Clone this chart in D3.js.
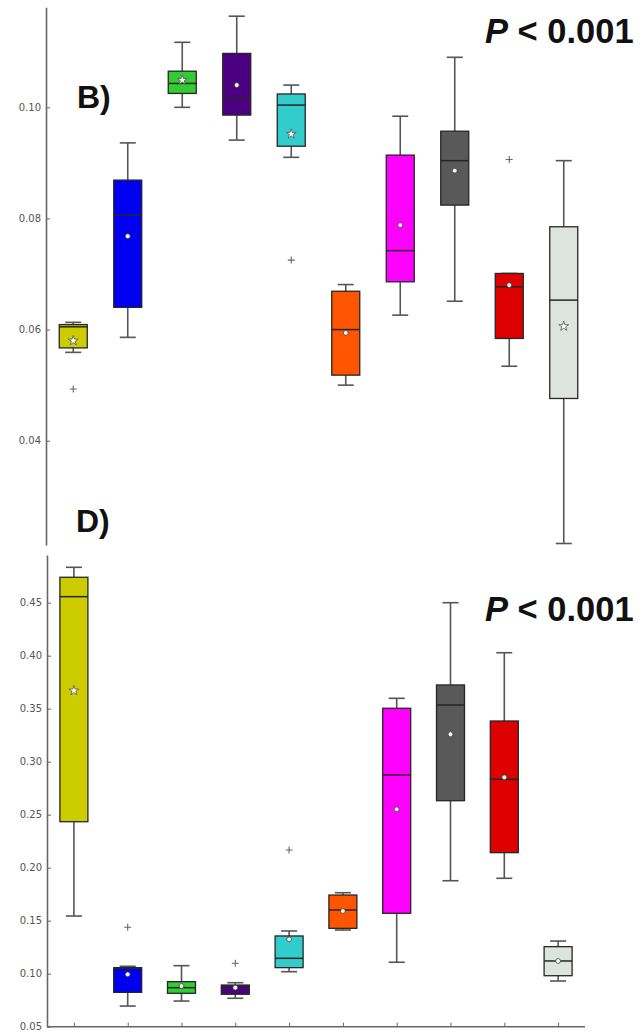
<!DOCTYPE html>
<html>
<head>
<meta charset="utf-8">
<script src="https://cdn.jsdelivr.net/npm/d3@7"></script>
<style>
  html, body { margin: 0; padding: 0; background: #fff; }
  svg { display: block; }
</style>
</head>
<body>
<svg id="chart" width="641" height="1034"></svg>
<script>
// Ten groups, one colour each
const groups = ["1", "2", "3", "4", "5", "6", "7", "8", "9", "10"];
const colors = ["#cccc00", "#0000f0", "#33cc33", "#4b0082", "#33cccc",
                "#ff5500", "#ff00ff", "#595959", "#dd0000", "#dde4e0"];

// Panel B statistics
const bLow  = [0.0559, 0.0586, 0.1000, 0.0941, 0.0910, 0.0500, 0.0626, 0.0651, 0.0534, 0.0215];
const bQ1   = [0.0567, 0.0640, 0.1025, 0.0986, 0.0930, 0.0518, 0.0686, 0.0824, 0.0584, 0.0476];
const bMed  = [0.0605, 0.0806, 0.1043, 0.1016, 0.1004, 0.0600, 0.0742, 0.0904, 0.0677, 0.0653];
const bQ3   = [0.0609, 0.0869, 0.1065, 0.1097, 0.1024, 0.0669, 0.0914, 0.0957, 0.0701, 0.0785];
const bHigh = [0.0613, 0.0936, 0.1117, 0.1164, 0.1040, 0.0681, 0.0984, 0.1090, 0.0701, 0.0904];
const bMean = [0.0580, 0.0768, 0.1049, 0.1040, 0.0952, 0.0594, 0.0788, 0.0886, 0.0680, 0.0606];
const bStar = [true, false, true, false, true, false, false, false, false, true];
const bOut  = [[0.0493], [], [], [], [0.0725], [], [], [], [0.0906], []];
const bTicks = [0.04, 0.06, 0.08, 0.10];

// Panel D statistics
const dLow  = [0.1544, 0.0695, 0.0742, 0.0768, 0.1019, 0.1412, 0.1108, 0.1877, 0.1900, 0.0931];
const dQ1   = [0.2434, 0.0824, 0.0815, 0.0806, 0.1057, 0.1428, 0.1570, 0.2632, 0.2142, 0.0981];
const dMed  = [0.4557, 0.1050, 0.0868, 0.0865, 0.1145, 0.1601, 0.2875, 0.3535, 0.2834, 0.1120];
const dQ3   = [0.4740, 0.1057, 0.0925, 0.0893, 0.1356, 0.1742, 0.3504, 0.3724, 0.3384, 0.1255];
const dHigh = [0.4834, 0.1070, 0.1076, 0.0915, 0.1403, 0.1764, 0.3598, 0.4500, 0.4028, 0.1308];
const dMean = [0.3670, 0.0994, 0.0884, 0.0868, 0.1324, 0.1591, 0.2551, 0.3259, 0.2853, 0.1120];
const dStar = [true, false, false, false, false, false, false, false, false, false];
const dOut  = [[], [0.1438], [], [0.1098], [0.2167], [], [], [], [], []];
const dTicks = [0.05, 0.10, 0.15, 0.20, 0.25, 0.30, 0.35, 0.40, 0.45];

const svg = d3.select("#chart");

function panel(cfg) {
  const g = svg.append("g");
  const x = d3.scalePoint().domain(groups).range(cfg.xRange).padding(0.5);
  const y = d3.scaleLinear().domain(cfg.yDomain).range(cfg.yRange);
  const boxW = 28, capW = 16;

  const rows = groups.map((k, i) => ({
    k, i, color: colors[i],
    low: cfg.low[i], q1: cfg.q1[i], med: cfg.med[i], q3: cfg.q3[i], high: cfg.high[i],
    mean: cfg.mean[i], star: cfg.star[i], out: cfg.out[i]
  }));

  // y axis with inward ticks
  const ay = g.append("g")
    .attr("transform", `translate(${cfg.xRange[0]},0)`)
    .call(d3.axisLeft(y).tickValues(cfg.ticks).tickFormat(d3.format(".2f"))
      .tickSize(-4).tickSizeOuter(0).tickPadding(5));
  ay.select(".domain").attr("stroke", "#666").attr("stroke-width", 1.6);
  ay.selectAll(".tick line").attr("stroke", "#666").attr("stroke-width", 1);
  ay.selectAll(".tick text").attr("fill", "#555")
    .style("font-family", "DejaVu Sans, sans-serif").style("font-size", "10px");

  if (cfg.xAxis) {
    const ax = g.append("g")
      .attr("transform", `translate(0,${cfg.yRange[0]})`)
      .call(d3.axisBottom(x).tickFormat("").tickSize(-4).tickSizeOuter(0));
    ax.select(".domain").attr("stroke", "#666").attr("stroke-width", 1.6)
      .attr("d", `M${cfg.xRange[0]},0H${cfg.xRange[1]}`);
    ax.selectAll(".tick line").attr("stroke", "#666").attr("stroke-width", 1);
  }

  const box = g.selectAll(".box").data(rows).join("g").attr("class", "box")
    .attr("transform", d => `translate(${x(d.k)},0)`);

  // whiskers
  box.append("line").attr("x1", 0).attr("x2", 0)
    .attr("y1", d => y(d.high)).attr("y2", d => y(d.q3))
    .attr("stroke", "#555").attr("stroke-width", 1.6);
  box.append("line").attr("x1", 0).attr("x2", 0)
    .attr("y1", d => y(d.q1)).attr("y2", d => y(d.low))
    .attr("stroke", "#555").attr("stroke-width", 1.6);
  box.append("line").attr("x1", -capW / 2).attr("x2", capW / 2)
    .attr("y1", d => y(d.high)).attr("y2", d => y(d.high))
    .attr("stroke", "#555").attr("stroke-width", 1.6);
  box.append("line").attr("x1", -capW / 2).attr("x2", capW / 2)
    .attr("y1", d => y(d.low)).attr("y2", d => y(d.low))
    .attr("stroke", "#555").attr("stroke-width", 1.6);

  // interquartile box
  box.append("rect").attr("x", -boxW / 2).attr("width", boxW)
    .attr("y", d => y(d.q3)).attr("height", d => y(d.q1) - y(d.q3))
    .attr("fill", d => d.color).attr("stroke", "#262626").attr("stroke-width", 1.3);

  // median
  box.append("line").attr("x1", -boxW / 2).attr("x2", boxW / 2)
    .attr("y1", d => y(d.med)).attr("y2", d => y(d.med))
    .attr("stroke", "#262626").attr("stroke-width", 1.5);

  // mean marker
  box.filter(d => d.star).append("path")
    .attr("d", d3.symbol().type(d3.symbolStar).size(30))
    .attr("transform", d => `translate(0,${y(d.mean)})`)
    .attr("fill", "#fff").attr("stroke", "#555").attr("stroke-width", 0.8);
  box.filter(d => !d.star).append("circle")
    .attr("cy", d => y(d.mean)).attr("r", 2.4)
    .attr("fill", "#fff").attr("stroke", "#444").attr("stroke-width", 0.8);

  // outliers
  box.selectAll(".flier").data(d => d.out).join("path").attr("class", "flier")
    .attr("d", "M-3.5,0H3.5M0,-3.5V3.5")
    .attr("transform", v => `translate(0,${y(v)})`)
    .attr("stroke", "#666").attr("stroke-width", 1.1);

  // panel letter and significance
  g.append("text").attr("x", cfg.letterPos[0]).attr("y", cfg.letterPos[1])
    .text(cfg.letter)
    .style("font-family", "Liberation Sans, Arial, sans-serif")
    .style("font-weight", "bold").style("font-size", "32px").attr("fill", "#111");
  const p = g.append("text").attr("x", 485).attr("y", cfg.pY)
    .style("font-family", "Liberation Sans, Arial, sans-serif")
    .style("font-weight", "bold").style("font-size", "34.5px").attr("fill", "#111");
  p.append("tspan").style("font-style", "italic").text("P");
  p.append("tspan").text(" < 0.001");
}

panel({
  xRange: [46, 591], yDomain: [0.02123, 0.118], yRange: [545, 7.3],
  low: bLow, q1: bQ1, med: bMed, q3: bQ3, high: bHigh, mean: bMean, star: bStar, out: bOut,
  ticks: bTicks, xAxis: false, letter: "B)", letterPos: [77, 108], pY: 42.7
});

panel({
  xRange: [47, 585], yDomain: [0.05, 0.495], yRange: [1026.7, 555],
  low: dLow, q1: dQ1, med: dMed, q3: dQ3, high: dHigh, mean: dMean, star: dStar, out: dOut,
  ticks: dTicks, xAxis: true, letter: "D)", letterPos: [76, 532], pY: 620.7
});
</script>
</body>
</html>
